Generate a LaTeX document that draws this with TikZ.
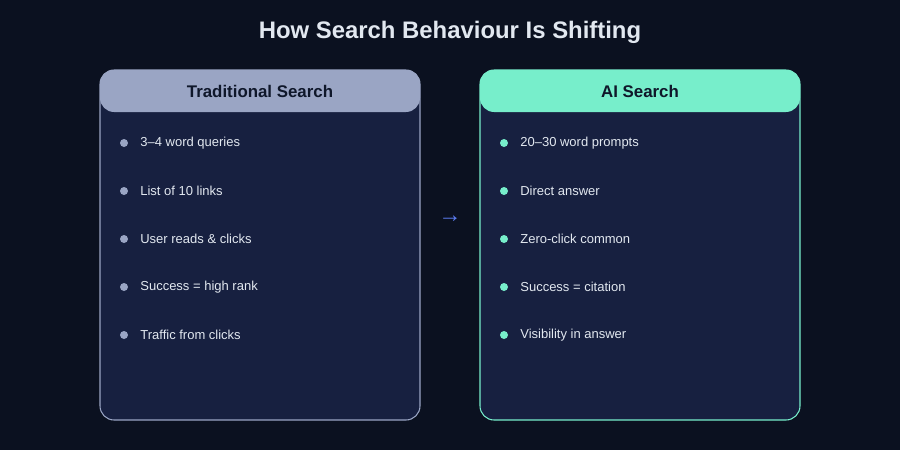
\documentclass[tikz,border=0pt]{standalone}
\usepackage{fontspec}
\setmainfont{Liberation Sans}
\definecolor{bgdark}{HTML}{0B1120}
\definecolor{panel}{HTML}{172040}
\definecolor{oldcol}{HTML}{9AA5C4}
\definecolor{newcol}{HTML}{77EECB}
\definecolor{txtlight}{HTML}{E2E8F0}
\definecolor{headtxt}{HTML}{0F172A}
\definecolor{arrowcol}{HTML}{5B7CF0}
\tikzset{
  panelbox/.style={draw=#1, fill=panel, rounded corners=8pt, line width=0.6pt},
  headbox/.style={fill=#1, rounded corners=8pt},
  headlabel/.style={font=\fontsize{9.6}{11}\selectfont\bfseries, text=headtxt},
  dot/.style={circle, fill=#1, inner sep=0pt, minimum size=0.16cm},
  item/.style={anchor=west, font=\fontsize{7.4}{9}\selectfont, text=txtlight, inner sep=0pt}
}
\begin{document}
\begin{tikzpicture}[x=0.02cm,y=-0.02cm]
\fill[bgdark] (0,0) rectangle (900,450);
\useasboundingbox (0,0) rectangle (900,450);
\node[font=\fontsize{13.6}{16}\selectfont\bfseries, text=txtlight] (title) at (450,32) {How Search Behaviour Is Shifting};
% traditional search
\draw[panelbox=oldcol] (100,70) rectangle (420,420);
\fill[headbox=oldcol] (100,70) rectangle (420,112);
\node[headlabel] (oldhead) at (260,91) {Traditional Search};
\foreach \t [count=\i] in {3--4 word queries, List of 10 links, User reads \& clicks, Success = high rank, Traffic from clicks}{
  \node[dot=oldcol] (olddot\i) at (124,95+48*\i) {};
  \node[item] (olditem\i) at (140,95+48*\i) {\t};
}
% ai search
\draw[panelbox=newcol] (480,70) rectangle (800,420);
\fill[headbox=newcol] (480,70) rectangle (800,112);
\node[headlabel] (newhead) at (640,91) {AI Search};
\foreach \t [count=\i] in {20--30 word prompts, Direct answer, Zero-click common, Success = citation, Visibility in answer}{
  \node[dot=newcol] (newdot\i) at (504,95+48*\i) {};
  \node[item] (newitem\i) at (520,95+48*\i) {\t};
}
\node[font=\fontsize{13}{15}\selectfont, text=arrowcol] (shift) at (450,219) {→};
\end{tikzpicture}
\end{document}
